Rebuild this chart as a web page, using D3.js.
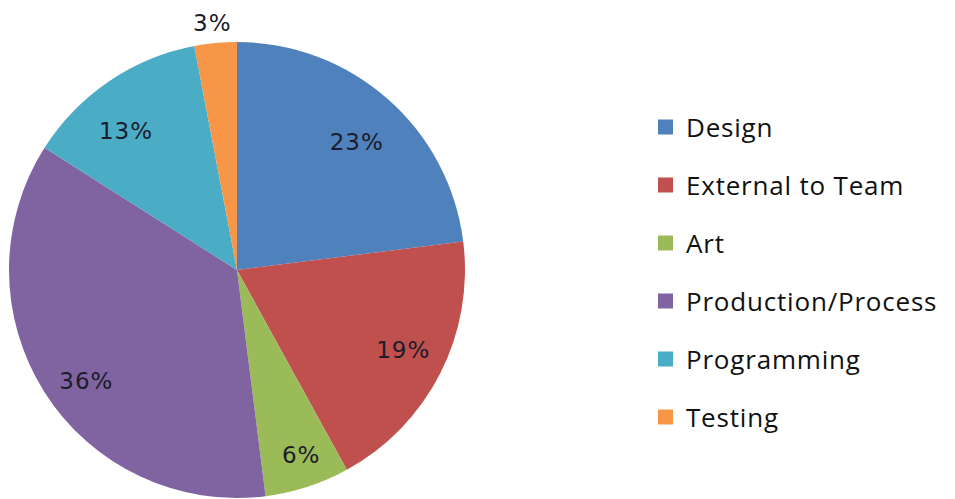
<!DOCTYPE html>
<html>
<head>
<meta charset="utf-8">
<script src="https://cdn.jsdelivr.net/npm/d3@7"></script>
<style>
  html, body { margin: 0; padding: 0; background: #fff; }
  svg { display: block; }
</style>
</head>
<body>
<svg id="chart" width="955" height="499"></svg>
<script>
// Share of effort by area
const categories = ["Design", "External to Team", "Art", "Production/Process", "Programming", "Testing"];
const values = [23, 19, 6, 36, 13, 3];
const colors = ["#4F81BD", "#C0504D", "#9BBB59", "#8064A2", "#4BACC6", "#F79646"];

// Percentage label placement: distance from the centre (share of radius)
// and a small angular nudge (degrees) away from the slice's mid-angle
const labelRadius = [0.77, 0.81, 0.86, 0.82, 0.78, 1.09];
const labelNudge = [1.6, -1.2, -1.1, -3.9, -4.4, -0.3];

const svg = d3.select("#chart");
const cx = 237, cy = 270, radius = 228;

const pie = d3.pie().sort(null).value(d => d.value);
const data = categories.map((c, i) => ({
  name: c, value: values[i], color: colors[i], lr: labelRadius[i], ln: labelNudge[i]
}));
const arcs = pie(data);

const arc = d3.arc().innerRadius(0).outerRadius(radius);

const g = svg.append("g").attr("transform", `translate(${cx},${cy})`);

g.selectAll("path.slice")
  .data(arcs)
  .join("path")
  .attr("class", "slice")
  .attr("d", arc)
  .attr("fill", d => d.data.color);

g.selectAll("text.pct")
  .data(arcs)
  .join("text")
  .attr("class", "pct")
  .attr("transform", d => {
    const a = (d.startAngle + d.endAngle) / 2 + d.data.ln * Math.PI / 180;
    const r = radius * d.data.lr;
    return `translate(${r * Math.sin(a)},${-r * Math.cos(a)})`;
  })
  .attr("text-anchor", "middle")
  .attr("dominant-baseline", "central")
  .attr("font-family", "'DejaVu Sans', sans-serif")
  .attr("font-size", 23)
  .attr("letter-spacing", 1)
  .attr("fill", "#1c1c2a")
  .text(d => d.data.value + "%");

// Legend
const legend = svg.append("g").attr("transform", "translate(658,127)");
const rowStep = 58;
const rows = legend.selectAll("g.row")
  .data(data)
  .join("g")
  .attr("class", "row")
  .attr("transform", (d, i) => `translate(0,${i * rowStep})`);

rows.append("rect")
  .attr("x", 0).attr("y", -7.5)
  .attr("width", 15).attr("height", 15)
  .attr("fill", d => d.color);

rows.append("text")
  .attr("x", 28).attr("y", 0)
  .attr("dominant-baseline", "central")
  .attr("font-family", "'Open Sans', sans-serif")
  .attr("font-size", 26)
  .attr("letter-spacing", 0.8)
  .attr("fill", "#111")
  .text(d => d.name);
</script>
</body>
</html>
